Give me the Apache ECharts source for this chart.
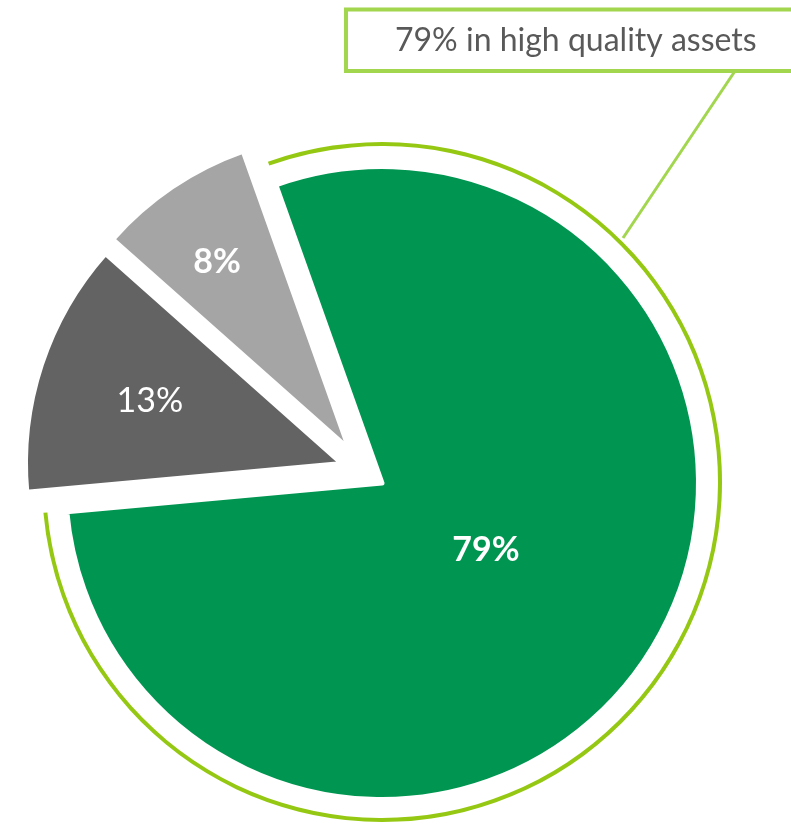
<!DOCTYPE html>
<html>
<head>
<meta charset="utf-8">
<title>Asset quality</title>
<script src="https://cdn.jsdelivr.net/npm/echarts@6.0.0/dist/echarts.min.js"></script>
<style>
  html, body { margin: 0; padding: 0; background: #fff; }
  #chart { width: 791px; height: 824px; }
</style>
</head>
<body>
<div id="chart"></div>
<script>
// data
const categories = ['High quality assets', 'Other assets', 'Remaining assets'];
const shares = [79, 13, 8];
const sliceColors = ['#009651', '#636363', '#a5a5a5'];
const boldLabels = [true, false, true];
const calloutText = '79% in high quality assets';

// layout (pixels)
const START_ANGLE = 109.6;
const RADIUS = 316.5;
const pieces = [
  { center: [382, 483], labelShift: [-32, -20] },
  { center: [342, 463.6], labelShift: [-39, -12] },
  { center: [349.3, 449.4], labelShift: [-42, -54] },
];
const RING_CENTER = [382, 482];
const RING_COLOR = '#95c812';
const CALLOUT_COLOR = '#a2d64e';

const chart = echarts.init(document.getElementById('chart'));

// one pie per slice so every slice can be pulled out on its own
function sliceSeries(k) {
  return {
    type: 'pie',
    center: pieces[k].center,
    radius: [0, RADIUS],
    startAngle: START_ANGLE,
    clockwise: true,
    avoidLabelOverlap: false,
    silent: true,
    labelLine: { show: false },
    labelLayout: { dx: pieces[k].labelShift[0], dy: pieces[k].labelShift[1] },
    data: shares.map((v, i) => ({
      name: categories[i],
      value: v,
      itemStyle: i === k
        ? { color: sliceColors[i], borderColor: '#fff', borderWidth: 5 }
        : { color: 'rgba(0,0,0,0)', borderWidth: 0 },
      label: i === k
        ? {
            show: true,
            position: 'inside',
            formatter: '{c}%',
            color: '#fff',
            fontFamily: 'Lato',
            fontSize: 34,
            fontWeight: boldLabels[i] ? 'bold' : 'normal',
          }
        : { show: false },
    })),
  };
}

const ringSeries = {
  type: 'pie',
  center: RING_CENTER,
  radius: [336, 340],
  startAngle: START_ANGLE,
  clockwise: true,
  silent: true,
  label: { show: false },
  labelLine: { show: false },
  data: shares.map((v, i) => ({
    name: categories[i],
    value: v,
    itemStyle: i === 0
      ? { color: RING_COLOR, borderWidth: 0 }
      : { color: 'rgba(0,0,0,0)', borderWidth: 0 },
  })),
};

const option = {
  animation: false,
  graphic: [
    {
      type: 'line',
      shape: { x1: 735, y1: 71, x2: 623, y2: 238 },
      style: { stroke: CALLOUT_COLOR, lineWidth: 3 },
    },
    {
      type: 'rect',
      shape: { x: 346, y: 9.5, width: 600, height: 61.5 },
      style: { fill: '#fff', stroke: CALLOUT_COLOR, lineWidth: 4 },
    },
    {
      type: 'text',
      x: 395,
      y: 41,
      style: {
        text: calloutText,
        fontFamily: 'Lato',
        fontSize: 32,
        fill: '#595959',
        verticalAlign: 'middle',
      },
    },
  ],
  series: [ringSeries, sliceSeries(0), sliceSeries(1), sliceSeries(2)],
};

chart.setOption(option);
</script>
</body>
</html>
